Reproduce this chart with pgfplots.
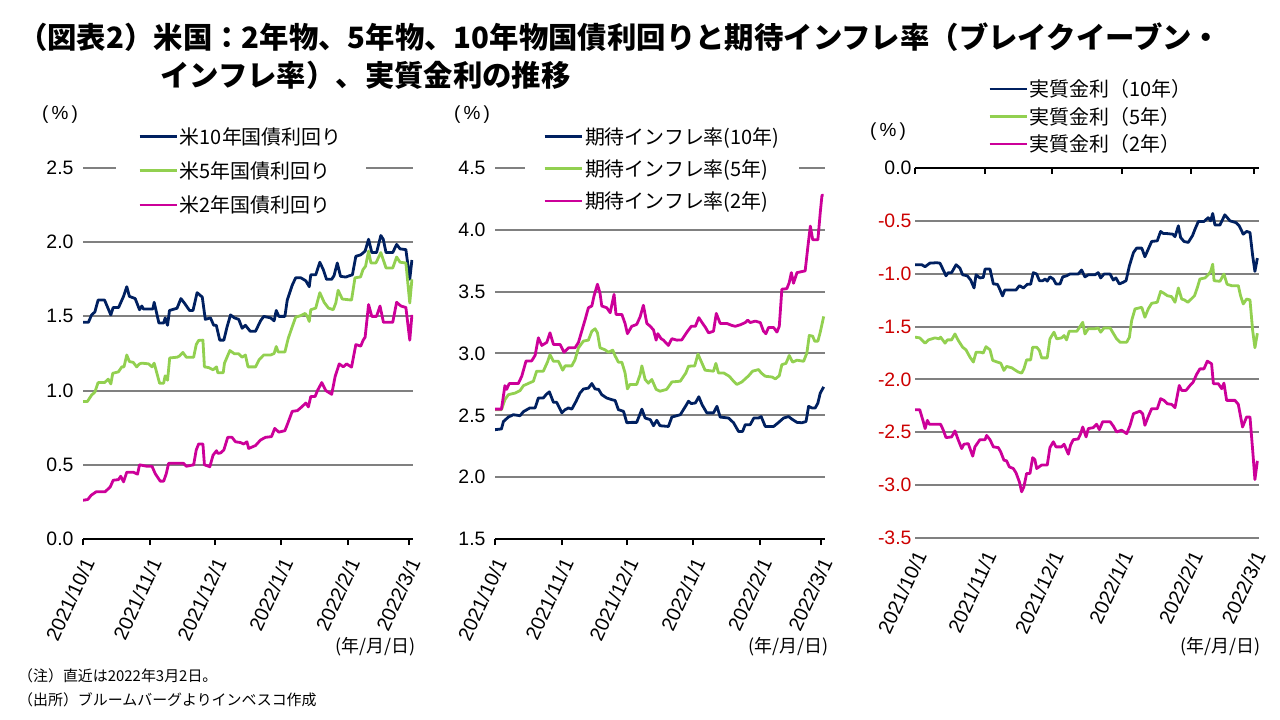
\documentclass[border=0pt]{standalone}
\usepackage{pgfplots}
\pgfplotsset{compat=1.18}
\usepackage{fontspec}
\setmainfont{Liberation Sans}
\newfontfamily\jp{Noto Sans CJK JP}
\definecolor{cnavy}{RGB}{0,32,96}
\definecolor{cgreen}{RGB}{146,208,80}
\definecolor{cmag}{RGB}{204,0,153}
\definecolor{cgrid}{RGB}{128,128,128}
\definecolor{cneg}{RGB}{204,0,0}

\pgfplotsset{
  panel/.style={
    scale only axis,
    xmin=0, xmax=153,
    axis line style={draw=none},
    ymajorgrids,
    grid style={cgrid, line width=2bp},
    major grid style={cgrid, line width=2bp},
    ytick style={draw=none},
    xtick={0,31,61,92,123,151},
    xticklabels={2021/10/1,2021/11/1,2021/12/1,2022/1/1,2022/2/1,2022/3/1},
    xtick style={black, line width=2bp},
    major tick length=6bp,
    xticklabel style={xshift=6bp, yshift=-14bp, rotate=65, anchor=east, font=\fontsize{20}{22}\selectfont, inner sep=0bp},
    yticklabel style={font=\fontsize{19.5}{21}\selectfont, /pgf/number format/fixed, /pgf/number format/fixed zerofill, /pgf/number format/precision=1, /pgf/number format/assume math mode=true},
    legend cell align=left,
    legend style={draw=none, fill=white, font=\jp\fontsize{20}{22}\selectfont, anchor=north west, row sep=12bp, inner ysep=2bp},
    legend image code/.code={\draw[##1, line width=2.8bp] (0bp,0bp) -- (37bp,0bp);},
    every axis plot/.append style={line width=2.8bp, mark=none, line join=round},
  }
}

\begin{document}
\begin{tikzpicture}
\path (0bp,0bp) rectangle (1280bp,720bp);

% ---------------- Panel 1 ----------------
\begin{axis}[panel,
  at={(83bp,181bp)}, anchor=south west,
  width=330bp, height=371bp,
  ymin=0, ymax=2.5,
  ytick={0.5,1.0,1.5,2.0,2.5},
  extra y ticks={0},
  extra y tick style={ymajorgrids=true, major grid style={black, line width=2.6bp}},
  xtick pos=left, tick align=outside,
  legend style={at={(0.1,1.121)}, inner xsep=22bp, row sep=12bp},
]
\addplot[cnavy] coordinates {
(0,1.46)(2.5,1.46)(4,1.51)(5.5,1.53)(7,1.61)(10,1.61)(12.9,1.51)(14,1.56)(16.5,1.56)(18.8,1.635)(20.3,1.70)(21.5,1.635)(24.2,1.62)(26.2,1.545)(27.3,1.57)(28,1.55)(32.4,1.55)(33,1.595)(35.2,1.455)(37.4,1.455)(38.1,1.49)(39.2,1.44)(40.1,1.54)(43.6,1.555)(45.4,1.62)(47,1.59)(49.4,1.54)(51,1.54)(52.9,1.66)(55.3,1.63)(56.7,1.48)(59.1,1.49)(60.6,1.44)(61.8,1.44)(63.4,1.34)(65.3,1.34)(66.8,1.43)(68.4,1.51)(70.2,1.49)(72.2,1.48)(73.8,1.42)(75.3,1.44)(77.5,1.40)(80,1.40)(82.3,1.47)(83.8,1.50)(87,1.49)(88.6,1.47)(89.6,1.54)(90.8,1.50)(93.6,1.50)(94.7,1.61)(97,1.71)(98.6,1.76)(101,1.76)(103.3,1.74)(104.9,1.70)(105.6,1.78)(107.9,1.78)(109.8,1.865)(111.4,1.815)(112.9,1.75)(115.3,1.75)(116.4,1.775)(117.9,1.86)(119.4,1.77)(121.8,1.765)(123.7,1.775)(124.9,1.78)(126.5,1.905)(128.8,1.915)(130.8,1.94)(132.4,2.02)(133.9,1.93)(136.1,1.93)(138.1,2.045)(139.2,2.02)(140.5,1.93)(143.6,1.93)(145.4,1.985)(147,1.955)(149.7,1.95)(151.5,1.75)(152.5,1.88)
};
\addlegendentry{米10年国債利回り}
\addplot[cgreen] coordinates {
(0,0.926)(2,0.926)(4,0.97)(5.5,0.99)(7,1.054)(10,1.054)(11.7,1.077)(12.9,1.045)(13.8,1.117)(16.4,1.126)(18,1.16)(19,1.16)(20.3,1.24)(21.5,1.196)(23.3,1.19)(24.9,1.16)(26.2,1.18)(27.3,1.185)(30.4,1.18)(32,1.16)(33,1.185)(35.5,1.05)(37.4,1.05)(38.1,1.10)(39.2,1.07)(40.2,1.22)(43.6,1.225)(44.8,1.234)(46.3,1.257)(47.9,1.225)(51.3,1.225)(52.5,1.31)(53.6,1.338)(55.6,1.34)(56.3,1.16)(58.3,1.155)(60.3,1.14)(61.9,1.16)(62.5,1.12)(65,1.12)(65.6,1.185)(68.1,1.27)(70.2,1.248)(72.2,1.248)(73.8,1.225)(75.3,1.24)(76.5,1.16)(80,1.16)(81.6,1.207)(83.8,1.24)(87,1.24)(88.6,1.25)(89.6,1.297)(90.5,1.26)(93.6,1.26)(95.2,1.354)(97,1.43)(98.6,1.495)(100.9,1.505)(103,1.52)(104,1.50)(104.9,1.466)(105.6,1.545)(107.9,1.556)(109.8,1.66)(111.8,1.595)(113.8,1.556)(116,1.545)(117.2,1.59)(118.3,1.676)(120.2,1.617)(124.5,1.61)(126.1,1.76)(128.7,1.766)(129.8,1.815)(131,1.838)(132.4,1.94)(133.5,1.86)(135.8,1.86)(138.1,1.93)(140.5,1.826)(143.6,1.826)(145.4,1.90)(147,1.865)(149.7,1.86)(151.5,1.59)(152.5,1.75)
};
\addlegendentry{米5年国債利回り}
\addplot[cmag] coordinates {
(0,0.261)(2.2,0.266)(3.8,0.295)(6.1,0.318)(10.2,0.318)(12.6,0.35)(14,0.396)(16.4,0.40)(17.5,0.423)(18.8,0.385)(20.3,0.45)(23.3,0.45)(25.3,0.437)(26.2,0.50)(29.6,0.49)(32,0.49)(33.5,0.44)(35.8,0.39)(37.4,0.39)(38.6,0.44)(39.7,0.51)(46.6,0.51)(47.9,0.49)(51.3,0.50)(52.5,0.60)(53.6,0.64)(55.6,0.64)(56.3,0.50)(58.8,0.487)(60.3,0.565)(61.9,0.595)(62.5,0.577)(63.8,0.58)(65.3,0.60)(67.1,0.685)(69.1,0.685)(70.7,0.655)(73,0.65)(74.5,0.64)(76,0.655)(76.8,0.61)(80,0.63)(82.3,0.667)(84.6,0.685)(87.4,0.69)(88.9,0.745)(90.8,0.72)(93.6,0.73)(94.7,0.77)(97,0.86)(99.4,0.865)(101.4,0.89)(103.3,0.916)(104.5,0.89)(105.6,0.96)(107.6,0.96)(108.7,1.00)(110.7,1.054)(112.6,1.00)(115.3,0.975)(116.9,1.095)(118.8,1.18)(120.7,1.16)(122.2,1.18)(124.5,1.158)(126.5,1.31)(128.8,1.30)(129.9,1.34)(130.8,1.36)(132.4,1.58)(133.9,1.50)(136.1,1.50)(137.7,1.57)(139.3,1.46)(143.6,1.46)(145.4,1.595)(147.4,1.57)(149.7,1.56)(151.5,1.34)(152.5,1.51)
};
\addlegendentry{米2年国債利回り}
\end{axis}

% ---------------- Panel 2 ----------------
\begin{axis}[panel,
  at={(495bp,181bp)}, anchor=south west,
  width=330bp, height=371bp,
  ymin=1.5, ymax=4.5,
  ytick={2.0,2.5,3.0,3.5,4.0,4.5},
  extra y ticks={1.5},
  extra y tick style={ymajorgrids=true, major grid style={black, line width=2.6bp}},
  xtick pos=left, tick align=outside,
  legend style={at={(0.091,1.121)}, inner xsep=18bp, row sep=10bp},
]
\addplot[cnavy] coordinates {
(0,2.384)(3,2.39)(3.9,2.45)(6.2,2.486)(8.5,2.505)(11.6,2.497)(13.2,2.53)(16.2,2.56)(18.6,2.56)(20.1,2.64)(22.4,2.64)(23.7,2.668)(25.2,2.69)(27.1,2.605)(28.6,2.605)(31,2.52)(32.5,2.546)(34.1,2.56)(35.6,2.55)(37.6,2.614)(39.4,2.68)(41,2.713)(43.3,2.72)(44.9,2.757)(46.4,2.713)(48,2.71)(49.5,2.667)(51.8,2.64)(54.1,2.627)(55.7,2.62)(57.2,2.546)(59.6,2.532)(61.1,2.44)(63.4,2.443)(65.7,2.443)(68.1,2.55)(69.6,2.478)(72,2.465)(73.5,2.416)(75,2.46)(76.5,2.416)(80.4,2.41)(82,2.486)(85.9,2.505)(88.5,2.578)(89.7,2.614)(91,2.595)(92.9,2.60)(94.5,2.65)(96,2.586)(98.2,2.52)(101.3,2.52)(102.9,2.573)(104.4,2.486)(108.3,2.478)(110.6,2.44)(112.9,2.37)(114.8,2.37)(116,2.424)(118.3,2.424)(120,2.478)(122.2,2.478)(123.4,2.49)(125.3,2.41)(129.2,2.41)(131.5,2.443)(133.8,2.478)(136.1,2.49)(137.6,2.47)(140,2.443)(142.3,2.44)(144.2,2.45)(145.4,2.573)(146.9,2.56)(148.5,2.56)(149.7,2.60)(150.8,2.68)(152.4,2.73)
};
\addlegendentry{期待インフレ率(10年)}
\addplot[cgreen] coordinates {
(0,2.546)(3,2.546)(4.6,2.627)(6.2,2.667)(9.3,2.68)(11.6,2.70)(13.2,2.74)(16,2.762)(17.8,2.776)(19.3,2.857)(22.4,2.857)(24.3,2.93)(25.5,2.99)(27.1,2.937)(29.4,2.937)(31.4,2.865)(32.5,2.90)(35.6,2.90)(37.1,2.95)(38.7,3.046)(41,3.10)(43.3,3.108)(44.9,3.18)(46.4,3.20)(47.5,3.167)(48.7,3.046)(51,3.03)(52.6,3.01)(54.6,3.027)(55.7,2.98)(57.2,2.93)(58.8,2.93)(60.3,2.843)(61.4,2.714)(62.6,2.75)(65.7,2.75)(67.3,2.83)(68.1,2.90)(69.6,2.79)(71.1,2.76)(72.7,2.79)(74.7,2.71)(76.5,2.695)(79.6,2.71)(82,2.77)(85.9,2.776)(88.5,2.843)(89.7,2.897)(92.6,2.90)(94.1,2.995)(96,2.92)(97.4,2.865)(101.3,2.857)(102.4,2.92)(103.6,2.843)(106,2.843)(108.6,2.816)(110.6,2.776)(112.1,2.75)(114.5,2.77)(116,2.795)(117.6,2.82)(119.4,2.857)(122.2,2.87)(123.4,2.843)(125.3,2.816)(128.4,2.81)(130,2.795)(131.8,2.82)(133,2.91)(134.9,2.92)(136.4,2.984)(138,2.93)(140,2.946)(143.1,2.937)(144.6,3.005)(145.7,3.146)(147.3,3.14)(148.2,3.10)(149.7,3.10)(150.8,3.173)(152.4,3.30)
};
\addlegendentry{期待インフレ率(5年)}
\addplot[cmag] coordinates {
(0,2.55)(3,2.55)(4.6,2.74)(5.4,2.71)(6.6,2.757)(10.8,2.757)(12.4,2.816)(14.4,2.94)(17,2.94)(18.6,2.985)(20.1,3.127)(21.7,3.065)(24,3.09)(25.5,3.167)(27.1,3.073)(30.2,3.073)(32,3.01)(34.1,3.046)(37.1,3.046)(38.7,3.09)(40.2,3.18)(41.8,3.275)(43.3,3.37)(44.9,3.384)(45.9,3.465)(47.5,3.56)(48.7,3.486)(49.5,3.384)(51.8,3.37)(53.4,3.33)(55.2,3.478)(56.1,3.316)(58.8,3.316)(60.3,3.243)(61.4,3.16)(63.4,3.22)(65.7,3.235)(67.3,3.297)(68.8,3.39)(70.4,3.243)(72,3.22)(73.5,3.19)(74.7,3.108)(75.5,3.16)(77,3.12)(78.1,3.108)(80.4,3.065)(82,3.12)(84.3,3.108)(86.6,3.11)(89,3.173)(91,3.22)(92.9,3.22)(94.5,3.29)(96,3.25)(97.6,3.21)(99,3.167)(101.3,3.18)(102.6,3.324)(104.4,3.243)(107.5,3.243)(109.8,3.227)(111.4,3.22)(113.7,3.232)(116,3.25)(117.2,3.27)(118.3,3.25)(120.7,3.262)(123,3.25)(124.5,3.18)(125.6,3.16)(126.8,3.21)(129.2,3.21)(130.7,3.173)(131.8,3.22)(133,3.52)(135.3,3.524)(136.4,3.573)(137.4,3.654)(138.4,3.568)(140,3.654)(143.8,3.668)(145.1,3.87)(146.2,4.03)(147.3,3.92)(149.7,3.92)(150.8,4.14)(151.6,4.28)(152.4,4.28)
};
\addlegendentry{期待インフレ率(2年)}
\end{axis}

% ---------------- Panel 3 ----------------
\begin{axis}[panel,
  at={(915bp,182bp)}, anchor=south west,
  width=343.5bp, height=370bp,
  ymin=-3.5, ymax=0,
  ytick={-3.5,-3.0,-2.5,-2.0,-1.5,-1.0,-0.5},
  yticklabel style={text=cneg},
  extra y ticks={0},
  extra y tick style={ymajorgrids=true, major grid style={black, line width=2.6bp}, yticklabel style={text=black}},
  xtick pos=right, xticklabel pos=left, tick align=inside,
  legend style={at={(0.2125,1.25)}, inner xsep=0bp, row sep=5bp, fill=none},
]
\addplot[cnavy] coordinates {
(0,-0.915)(3,-0.915)(4.5,-0.934)(6.6,-0.90)(9.7,-0.896)(11.1,-0.90)(12.6,-0.965)(13.8,-1.02)(14.8,-0.99)(16.3,-0.99)(18.3,-0.915)(20,-0.947)(21.2,-1.01)(23.3,-1.02)(24.8,-1.06)(26.3,-1.135)(27.2,-1.01)(28.9,-1.04)(30.4,-1.035)(31.2,-0.956)(33.4,-0.956)(34.9,-1.097)(36.7,-1.10)(37.5,-1.135)(39,-1.21)(40,-1.154)(42.3,-1.154)(45,-1.154)(46.5,-1.113)(48.3,-1.135)(50,-1.10)(51.5,-1.10)(52.7,-0.99)(54.2,-1.003)(55.4,-1.066)(56.9,-1.066)(58,-1.05)(58.9,-1.07)(60.1,-1.03)(61.6,-1.05)(62.8,-1.097)(64.6,-1.097)(65.8,-1.03)(67.5,-1.02)(69,-1.003)(72.7,-1.003)(74.2,-0.965)(75.7,-1.03)(77.2,-1.01)(80.2,-1.01)(81.6,-0.99)(82.7,-1.04)(84.2,-1.003)(86.9,-1.003)(88.3,-1.06)(89.5,-1.04)(91,-1.097)(92.8,-1.08)(94,-1.066)(95.5,-0.925)(97.3,-0.80)(98.7,-0.758)(101,-0.758)(102.4,-0.84)(103.9,-0.767)(105.4,-0.695)(107.9,-0.689)(109.4,-0.60)(110.6,-0.62)(112.1,-0.62)(114.8,-0.626)(115.8,-0.65)(117.3,-0.547)(118.3,-0.657)(119.8,-0.695)(121.7,-0.704)(123.6,-0.64)(124.7,-0.58)(126.2,-0.506)(128.7,-0.506)(130.6,-0.47)(131.7,-0.50)(132.6,-0.43)(133.6,-0.54)(135.8,-0.54)(138,-0.443)(140.3,-0.50)(142.9,-0.516)(144.4,-0.547)(146.2,-0.626)(147.7,-0.60)(149.2,-0.61)(150.4,-0.83)(151.4,-0.978)(152.5,-0.852)
};
\addlegendentry{実質金利（10年）}
\addplot[cgreen] coordinates {
(0,-1.60)(2.1,-1.607)(4.5,-1.657)(6,-1.626)(8.9,-1.607)(10.8,-1.616)(11.4,-1.60)(13.4,-1.657)(14.4,-1.626)(16.3,-1.626)(17.8,-1.57)(19.3,-1.632)(21.2,-1.695)(22.7,-1.72)(24.5,-1.79)(26,-1.836)(27.2,-1.742)(28.9,-1.742)(30.4,-1.75)(31.6,-1.69)(33.4,-1.72)(34.6,-1.82)(36.7,-1.836)(38.2,-1.846)(39.6,-1.915)(40.8,-1.877)(43.1,-1.89)(44.5,-1.91)(46,-1.93)(47.5,-1.94)(48.5,-1.90)(49.7,-1.815)(51.5,-1.815)(52.4,-1.695)(54.2,-1.695)(55.4,-1.726)(56.4,-1.796)(58.9,-1.796)(60.1,-1.616)(61.9,-1.553)(63.1,-1.616)(65.3,-1.607)(66.4,-1.585)(67.5,-1.626)(68.7,-1.544)(72.1,-1.544)(73.5,-1.50)(74.7,-1.46)(75.7,-1.57)(77.2,-1.52)(80.2,-1.52)(81.6,-1.513)(82.7,-1.553)(84.2,-1.513)(86.9,-1.513)(88.3,-1.563)(89.8,-1.616)(91.3,-1.648)(94.3,-1.648)(95.5,-1.60)(96.5,-1.443)(98,-1.333)(101,-1.318)(102.4,-1.412)(103.9,-1.333)(105.4,-1.28)(107.9,-1.27)(109.4,-1.167)(110.9,-1.186)(112.4,-1.208)(114.3,-1.217)(115.8,-1.27)(117.3,-1.135)(118.8,-1.24)(120,-1.248)(121.5,-1.27)(123,-1.24)(124.5,-1.208)(125.7,-1.135)(126.9,-1.05)(129.2,-1.04)(130.6,-1.01)(131.7,-0.978)(132.6,-0.91)(133.2,-1.066)(135.8,-1.072)(137.6,-1.003)(139,-1.10)(141,-1.113)(144,-1.113)(145,-1.208)(146.2,-1.286)(147.7,-1.24)(149.2,-1.248)(150.4,-1.538)(151.4,-1.70)(152.5,-1.563)
};
\addlegendentry{実質金利（5年）}
\addplot[cmag] coordinates {
(0,-2.286)(2.1,-2.286)(3.7,-2.40)(4.5,-2.465)(5.5,-2.387)(6.4,-2.424)(8.9,-2.424)(11.4,-2.424)(12.6,-2.48)(13.8,-2.55)(16.3,-2.544)(17.8,-2.487)(19.3,-2.575)(20.8,-2.654)(21.8,-2.613)(23.7,-2.607)(25.7,-2.726)(26.7,-2.638)(28.9,-2.57)(31.2,-2.57)(31.9,-2.53)(33.4,-2.57)(34.9,-2.638)(37.1,-2.645)(38.2,-2.686)(39.6,-2.764)(40.8,-2.77)(42,-2.827)(43.8,-2.843)(45,-2.884)(46.5,-2.97)(47.5,-3.063)(48.5,-3.016)(49.7,-2.89)(51.2,-2.89)(52.4,-2.74)(53.4,-2.76)(54.2,-2.843)(56.4,-2.81)(58.9,-2.81)(60.1,-2.645)(61.6,-2.59)(62.8,-2.638)(65.3,-2.638)(66.4,-2.613)(68.3,-2.707)(69.3,-2.62)(70.5,-2.57)(72.7,-2.563)(73.8,-2.513)(74.7,-2.45)(76.2,-2.544)(77.2,-2.465)(79.4,-2.456)(80.9,-2.424)(82.1,-2.475)(83.6,-2.40)(86.9,-2.40)(88.3,-2.44)(89.8,-2.497)(92,-2.48)(94.3,-2.513)(95.8,-2.434)(97.3,-2.324)(100.2,-2.30)(101.4,-2.324)(102.4,-2.434)(103.9,-2.35)(105.4,-2.277)(107.9,-2.277)(109.4,-2.182)(110.9,-2.198)(112.4,-2.23)(114.3,-2.236)(115.8,-2.267)(117.7,-2.057)(118.8,-2.104)(120.7,-2.104)(122.5,-2.057)(123.9,-2.025)(125.4,-1.953)(126.9,-1.90)(128.7,-1.90)(130.2,-1.827)(132.1,-1.852)(132.9,-2.04)(135.1,-2.04)(136.6,-2.088)(137.6,-2.035)(138.8,-2.198)(142.5,-2.198)(144,-2.236)(145.9,-2.45)(147.7,-2.355)(149.2,-2.355)(150.4,-2.67)(151.4,-2.947)(152.5,-2.77)
};
\addlegendentry{実質金利（2年）}
\end{axis}

% ---------------- Texts ----------------
\node[anchor=west, inner sep=0pt, font=\jp\bfseries\fontsize{29.5}{32}\selectfont] at (18bp,683bp) {（図表2）米国：2年物、5年物、10年物国債利回りと期待インフレ率（ブレイクイーブン・};
\node[anchor=west, inner sep=0pt, font=\jp\bfseries\fontsize{29.5}{32}\selectfont] at (160bp,645bp) {インフレ率）、実質金利の推移};

\node[font=\fontsize{19}{21}\selectfont] at (60bp,605bp) {(\,\%\,)};
\node[font=\fontsize{19}{21}\selectfont] at (472bp,605bp) {(\,\%\,)};
\node[font=\fontsize{19}{21}\selectfont] at (888bp,588bp) {(\,\%\,)};

\node[anchor=east, inner sep=0pt, font=\jp\fontsize{18}{20}\selectfont] at (416bp,73bp) {(年/月/日)};
\node[anchor=east, inner sep=0pt, font=\jp\fontsize{18}{20}\selectfont] at (829bp,73bp) {(年/月/日)};
\node[anchor=east, inner sep=0pt, font=\jp\fontsize{18}{20}\selectfont] at (1261bp,73bp) {(年/月/日)};

\node[anchor=west, inner sep=0pt, font=\jp\fontsize{15}{17}\selectfont] at (18bp,44bp) {（注）直近は2022年3月2日。};
\node[anchor=west, inner sep=0pt, font=\jp\fontsize{15}{17}\selectfont] at (18bp,20bp) {（出所）ブルームバーグよりインベスコ作成};
\end{tikzpicture}
\end{document}
